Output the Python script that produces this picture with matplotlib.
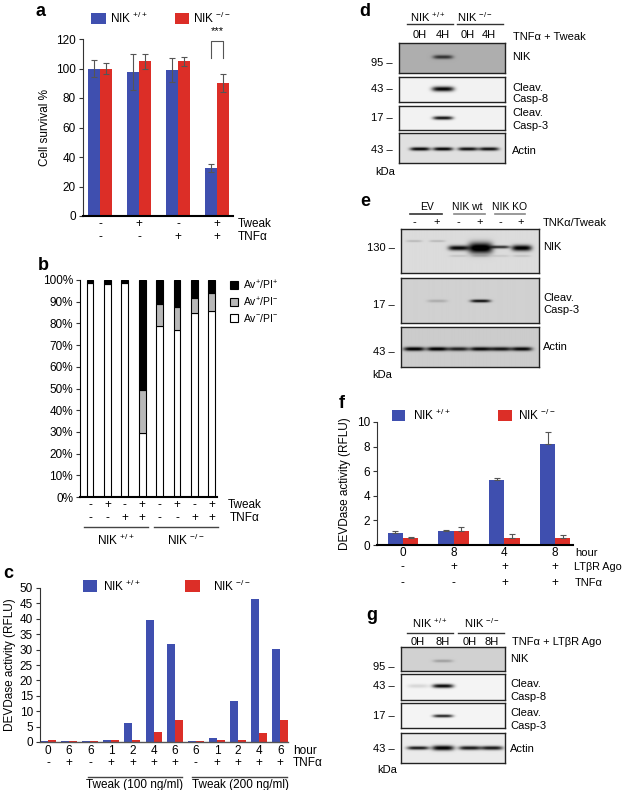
import numpy as np
import matplotlib
matplotlib.use('Agg')
import matplotlib.pyplot as plt
from matplotlib.patches import Rectangle
from matplotlib.lines import Line2D
from matplotlib import transforms

plt.rcParams['font.family'] = ['Liberation Sans', 'DejaVu Sans']
plt.rcParams['mathtext.fontset'] = 'custom'
plt.rcParams['mathtext.rm'] = 'Liberation Sans'
plt.rcParams['mathtext.it'] = 'Liberation Sans:italic'
plt.rcParams['mathtext.default'] = 'regular'

W, H = 625, 790
fig = plt.figure(figsize=(W / 100, H / 100), dpi=100)

BLUE = '#3F4FAF'
RED = '#DC2E27'
FS = 8.5

# ---------------- data ----------------
a_tweak = ['-', '+', '-', '+']
a_tnf = ['-', '-', '+', '+']
a_wt = [100, 97.5, 99, 32.5]
a_wt_err = [6, 12, 8, 3]
a_ko = [100, 105, 105, 90]
a_ko_err = [4, 5, 3, 6]

b_tweak = ['-', '+', '-', '+', '-', '+', '-', '+']
b_tnf = ['-', '-', '+', '+', '-', '-', '+', '+']
b_live = [98.5, 98, 98.5, 29.5, 79, 77, 85, 85.5]     # Av-/PI-
b_early = [0.5, 0.5, 0.5, 20, 10, 10.5, 6.5, 8.5]     # Av+/PI-
b_late = [1, 1.5, 1, 50.5, 11, 12.5, 8.5, 6]          # Av+/PI+
b_groups = ['NIK $^{+/+}$', 'NIK $^{-/-}$']

c_hours = ['0', '6', '6', '1', '2', '4', '6', '6', '1', '2', '4', '6']
c_tnf = ['-', '+', '-', '+', '+', '+', '+', '-', '+', '+', '+', '+']
c_wt = [0.3, 0.3, 0.3, 0.5, 6.3, 39.5, 31.7, 0.3, 1.2, 13.3, 46.5, 30.3]
c_ko = [0.5, 0.4, 0.4, 0.5, 0.5, 3.2, 7.3, 0.3, 0.6, 0.5, 2.9, 7.1]
c_groups = ['Tweak (100 ng/ml)', 'Tweak (200 ng/ml)']

f_hours = ['0', '8', '4', '8']
f_ltbr = ['-', '+', '+', '+']
f_tnf = ['-', '-', '+', '+']
f_wt = [0.95, 1.15, 5.25, 8.2]
f_wt_err = [0.2, 0.1, 0.2, 1.0]
f_ko = [0.55, 1.1, 0.6, 0.55]
f_ko_err = [0.1, 0.4, 0.3, 0.25]

# blot band intensities (per lane)
d_nik = [0, 0.5, 0, 0]
d_casp8 = [0, 0.95, 0, 0]
d_casp3 = [0, 0.9, 0, 0]
d_actin = [0.9, 0.9, 0.85, 0.85]

e_nik = [0.15, 0.15, 0.85, 1.0, 0.7, 0.9]
e_casp3 = [0, 0.15, 0, 0.8, 0, 0]
e_actin = [0.85, 0.85, 0.7, 0.8, 0.75, 0.8]

g_nik = [0, 0.2, 0, 0]
g_casp8 = [0.12, 0.95, 0, 0]
g_casp3 = [0, 0.85, 0, 0]
g_actin = [0.85, 0.95, 0.85, 0.85]


# ---------------- helpers ----------------
def px_axes(x0, y0, x1, y1):
    return fig.add_axes([x0 / W, 1 - y1 / H, (x1 - x0) / W, (y1 - y0) / H])


def ftext(x, y, s, **kw):
    kw.setdefault('fontsize', FS)
    kw.setdefault('va', 'center')
    fig.text(x / W, 1 - y / H, s, **kw)


def fline(x0, x1, y, lw=1.0, color='#333'):
    fig.add_artist(Line2D([x0 / W, x1 / W], [1 - y / H, 1 - y / H],
                          transform=fig.transFigure, lw=lw, color=color))


def fsquare(x0, y0, x1, y1, color, ec='none'):
    fig.add_artist(Rectangle((x0 / W, 1 - y1 / H), (x1 - x0) / W, (y1 - y0) / H,
                             transform=fig.transFigure, facecolor=color, edgecolor=ec, lw=0.8))


def row(ax, labels, ypx, **kw):
    tr = transforms.blended_transform_factory(ax.transData, fig.transFigure)
    for i, s in enumerate(labels):
        ax.text(i, 1 - ypx / H, s, transform=tr, ha='center', va='center',
                fontsize=kw.get('fontsize', FS), clip_on=False)


def dline(ax, x0, x1, ypx):
    tr = transforms.blended_transform_factory(ax.transData, fig.transFigure)
    ax.add_line(Line2D([x0, x1], [1 - ypx / H] * 2, transform=tr, color='#444', lw=1.0, clip_on=False))


def style_bar_axes(ax):
    for s in ['top', 'right']:
        ax.spines[s].set_visible(False)
    ax.spines['left'].set_color('#333')
    ax.spines['left'].set_linewidth(0.8)
    ax.spines['bottom'].set_color('black')
    ax.spines['bottom'].set_linewidth(1.5)
    ax.tick_params(axis='y', labelsize=FS, length=3, width=0.8, color='#333', pad=2)
    ax.tick_params(axis='x', length=0, labelbottom=False)


def blot(x0, y0, x1, y1, bg, bands):
    ax = px_axes(x0, y0, x1, y1)
    nx, ny = int((x1 - x0) * 3), int((y1 - y0) * 3)
    X, Y = np.meshgrid(np.linspace(x0, x1, nx), np.linspace(y0, y1, ny))
    img = np.full_like(X, bg)
    for (xc, yc, w, t, inten) in bands:
        if inten <= 0:
            continue
        fx = np.exp(-np.abs((X - xc) / (w / 2)) ** 4)
        fy = np.exp(-((Y - yc) / (t / 2)) ** 2)
        img -= inten * fx * fy
    img = np.clip(img, 0, 1)
    ax.imshow(img, cmap='gray', vmin=0, vmax=1, extent=(x0, x1, y1, y0),
              aspect='auto', interpolation='bilinear')
    ax.set_xlim(x0, x1)
    ax.set_ylim(y1, y0)
    ax.set_xticks([])
    ax.set_yticks([])
    for s in ax.spines.values():
        s.set_linewidth(1.0)
        s.set_color('#222')
    return ax


def mw(x, y, s):
    ftext(x, y, s + ' \u2013', ha='right', fontsize=8)


def panel(x, y, s):
    ftext(x, y, s, ha='center', fontsize=13, fontweight='bold')


# ---------------- panel a ----------------
ax = px_axes(83, 39, 233, 216)
xa = np.arange(4)
bw = 0.3
ax.bar(xa - bw / 2, a_wt, bw, color=BLUE, yerr=a_wt_err, capsize=2,
       error_kw=dict(ecolor='#555', elinewidth=0.8, capthick=0.8))
ax.bar(xa + bw / 2, a_ko, bw, color=RED, yerr=a_ko_err, capsize=2,
       error_kw=dict(ecolor='#555', elinewidth=0.8, capthick=0.8))
ax.set_xlim(-0.436, 3.41)
ax.set_ylim(0, 120)
ax.set_yticks(range(0, 121, 20))
style_bar_axes(ax)
ax.set_ylabel('Cell survival %', fontsize=FS, labelpad=4)
ax.plot([3 - bw / 2, 3 - bw / 2, 3 + bw / 2, 3 + bw / 2], [107, 118.5, 118.5, 107],
        color='#555', lw=0.8, clip_on=False)
ax.text(3, 122, '***', ha='center', va='bottom', fontsize=8, clip_on=False)
row(ax, a_tweak, 224)
row(ax, a_tnf, 237)
ftext(238, 224, 'Tweak', ha='left')
ftext(238, 237, 'TNF\u03b1', ha='left')
fsquare(91, 13, 106, 24, BLUE)
ftext(110, 18, 'NIK $^{+/+}$', ha='left')
fsquare(175, 13, 189, 24, RED)
ftext(193, 18, 'NIK $^{-/-}$', ha='left')
panel(40, 12, 'a')

# ---------------- panel b ----------------
ax = px_axes(80, 280, 217, 497)
xb = np.arange(8)
wb = 0.4
ax.bar(xb, b_live, wb, color='white', edgecolor='black', lw=0.8)
ax.bar(xb, b_early, wb, bottom=b_live, color='#B8B8B8', edgecolor='black', lw=0.8)
ax.bar(xb, b_late, wb, bottom=np.add(b_live, b_early), color='black', edgecolor='black', lw=0.8)
ax.set_xlim(-0.575, 7.3)
ax.set_ylim(0, 100)
ax.set_yticks(range(0, 101, 10))
ax.set_yticklabels([f'{v}%' for v in range(0, 101, 10)])
style_bar_axes(ax)
ax.spines['left'].set_color('black')
row(ax, b_tweak, 505)
row(ax, b_tnf, 518)
ftext(228, 505, 'Tweak', ha='left')
ftext(230, 518, 'TNF\u03b1', ha='left')
dline(ax, -0.35, 3.35, 527)
dline(ax, 3.65, 7.35, 527)
tr = transforms.blended_transform_factory(ax.transData, fig.transFigure)
ax.text(1.5, 1 - 540 / H, b_groups[0], transform=tr, ha='center', va='center', fontsize=FS, clip_on=False)
ax.text(5.5, 1 - 540 / H, b_groups[1], transform=tr, ha='center', va='center', fontsize=FS, clip_on=False)
for yy, col, lab in [(285, 'black', 'Av$^{+}$/PI$^{+}$'), (302, '#B8B8B8', 'Av$^{+}$/PI$^{-}$'),
                     (318, 'white', 'Av$^{-}$/PI$^{-}$')]:
    fsquare(230, yy - 4, 238, yy + 4, col, ec='black')
    ftext(243, yy, lab, ha='left', fontsize=7.5)
panel(43, 265, 'b')

# ---------------- panel c ----------------
ax = px_axes(40, 588, 288, 742)
xc = np.arange(12)
wc = 0.38
ax.bar(xc - wc / 2, c_wt, wc, color=BLUE)
ax.bar(xc + wc / 2, c_ko, wc, color=RED)
ax.set_xlim(-0.38, 11.37)
ax.set_ylim(0, 50)
ax.set_yticks(range(0, 51, 5))
style_bar_axes(ax)
ax.spines['bottom'].set_linewidth(1.0)
ax.spines['bottom'].set_color('#555')
ax.set_ylabel('DEVDase activity (RFLU)', fontsize=FS, labelpad=3)
row(ax, c_hours, 751)
row(ax, c_tnf, 763)
ftext(293, 751, 'hour', ha='left')
ftext(293, 763, 'TNF\u03b1', ha='left')
dline(ax, 1.9, 6.35, 777)
dline(ax, 6.82, 11.33, 777)
tr = transforms.blended_transform_factory(ax.transData, fig.transFigure)
ax.text(4.1, 1 - 785 / H, c_groups[0], transform=tr, ha='center', va='center', fontsize=FS, clip_on=False)
ax.text(9.1, 1 - 785 / H, c_groups[1], transform=tr, ha='center', va='center', fontsize=FS, clip_on=False)
fsquare(83, 580, 97, 592, BLUE)
ftext(103, 586, 'NIK $^{+/+}$', ha='left')
fsquare(185, 580, 200, 592, RED)
ftext(213, 586, 'NIK $^{-/-}$', ha='left')
panel(8, 573, 'c')

# ---------------- panel d ----------------
panel(365, 12, 'd')
d_x = [420, 443, 468, 489]
ftext(428, 17, 'NIK $^{+/+}$', ha='center', fontsize=8)
ftext(475, 17, 'NIK $^{-/-}$', ha='center', fontsize=8)
fline(407, 453, 24)
fline(457, 503, 24)
for x, s in zip(d_x, ['0H', '4H', '0H', '4H']):
    ftext(x, 35, s, ha='center', fontsize=8)
ftext(513, 37, 'TNF\u03b1 + Tweak', ha='left', fontsize=8)
blot(399, 43, 505, 73, 0.68, [(x, 57, 20, 4, v) for x, v in zip(d_x, d_nik)])
blot(399, 77, 505, 102, 0.95, [(x, 89, 22, 5, v) for x, v in zip(d_x, d_casp8)])
blot(399, 106, 505, 130, 0.95, [(x, 118, 20, 3.5, v) for x, v in zip(d_x, d_casp3)])
blot(399, 133, 505, 163, 0.88, [(x, 149, 20, 3.5, v) for x, v in zip(d_x, d_actin)])
mw(393, 63, '95')
mw(393, 89, '43')
mw(393, 118, '17')
mw(393, 150, '43')
ftext(375, 172, 'kDa', ha='left', fontsize=8)
ftext(512, 57, 'NIK', ha='left', fontsize=8)
ftext(512, 88, 'Cleav.', ha='left', fontsize=8)
ftext(512, 99, 'Casp-8', ha='left', fontsize=8)
ftext(512, 113, 'Cleav.', ha='left', fontsize=8)
ftext(512, 126, 'Casp-3', ha='left', fontsize=8)
ftext(512, 151, 'Actin', ha='left', fontsize=8)

# ---------------- panel e ----------------
panel(365, 202, 'e')
e_x = [414, 437, 458, 480, 500, 521]
ftext(427, 207, 'EV', ha='center', fontsize=7.5)
ftext(467, 207, 'NIK wt', ha='center', fontsize=7.5)
ftext(510, 207, 'NIK KO', ha='center', fontsize=7.5)
fline(410, 442, 214, lw=1.2)
fline(454, 485, 214, lw=1.2, color='#888')
fline(495, 525, 214, lw=1.2, color='#888')
for x, s in zip(e_x, ['-', '+', '-', '+', '-', '+']):
    ftext(x, 222, s, ha='center', fontsize=8)
ftext(543, 223, 'TNK\u03b1/Tweak', ha='left', fontsize=8)
nik_t = [2, 2, 5, 11, 3, 6]
nik_w = [16, 16, 20, 24, 18, 20]
nik_y = [241, 241, 248, 248, 247, 248]
bands = [(x, y, w, t, v) for x, y, w, t, v in zip(e_x, nik_y, nik_w, nik_t, e_nik)]
bands += [(x, 256, 18, 2, 0.12 * v) for x, v in zip(e_x[2:], e_nik[2:])]
blot(401, 229, 539, 273, 0.86, bands)
blot(401, 278, 539, 323, 0.82, [(x, 301, 20, 3, v) for x, v in zip(e_x, e_casp3)])
blot(401, 327, 539, 367, 0.8, [(x, 349, 21, 4, v) for x, v in zip(e_x, e_actin)])
mw(395, 248, '130')
mw(395, 305, '17')
mw(395, 352, '43')
ftext(372, 375, 'kDa', ha='left', fontsize=8)
ftext(543, 247, 'NIK', ha='left', fontsize=8)
ftext(543, 298, 'Cleav.', ha='left', fontsize=8)
ftext(543, 310, 'Casp-3', ha='left', fontsize=8)
ftext(543, 347, 'Actin', ha='left', fontsize=8)

# ---------------- panel f ----------------
ax = px_axes(377, 422, 573, 545)
xf = np.arange(4)
wf = 0.3
ax.bar(xf - wf / 2, f_wt, wf, color=BLUE, yerr=[[0] * 4, f_wt_err], capsize=2,
       error_kw=dict(ecolor='#555', elinewidth=0.8, capthick=0.8))
ax.bar(xf + wf / 2, f_ko, wf, color=RED, yerr=[[0] * 4, f_ko_err], capsize=2,
       error_kw=dict(ecolor='#555', elinewidth=0.8, capthick=0.8))
ax.set_xlim(-0.51, 3.35)
ax.set_ylim(0, 10)
ax.set_yticks(range(0, 11, 2))
style_bar_axes(ax)
ax.set_ylabel('DEVDase activity (RFLU)', fontsize=FS, labelpad=4)
row(ax, f_hours, 553)
row(ax, f_ltbr, 567)
row(ax, f_tnf, 583)
ftext(575, 553, 'hour', ha='left', fontsize=8)
ftext(574, 567, 'LT\u03b2R Ago', ha='left', fontsize=7.8)
ftext(575, 583, 'TNF\u03b1', ha='left', fontsize=8)
fsquare(392, 410, 405, 421, BLUE)
ftext(413, 415, 'NIK $^{+/+}$', ha='left')
fsquare(498, 410, 512, 421, RED)
ftext(518, 415, 'NIK $^{-/-}$', ha='left')
panel(342, 403, 'f')

# ---------------- panel g ----------------
panel(372, 615, 'g')
g_x = [418, 443, 470, 492]
ftext(430, 623, 'NIK $^{+/+}$', ha='center', fontsize=8)
ftext(482, 623, 'NIK $^{-/-}$', ha='center', fontsize=8)
fline(407, 453, 633)
fline(458, 504, 633)
for x, s in zip(g_x, ['0H', '8H', '0H', '8H']):
    ftext(x, 642, s, ha='center', fontsize=8)
ftext(512, 642, 'TNF\u03b1 + LT\u03b2R Ago', ha='left', fontsize=8)
blot(401, 647, 505, 671, 0.82, [(x, 661, 20, 3, v) for x, v in zip(g_x, g_nik)])
blot(401, 674, 505, 700, 0.96, [(x, 686, 21, 4, v) for x, v in zip(g_x, g_casp8)])
blot(401, 703, 505, 728, 0.96, [(x, 716, 20, 3, v) for x, v in zip(g_x, g_casp3)])
blot(401, 733, 505, 763, 0.92, [(x, 748, 22, t, v) for x, t, v in zip(g_x, [3.5, 5, 4, 4], g_actin)])
mw(395, 667, '95')
mw(395, 686, '43')
mw(395, 716, '17')
mw(395, 749, '43')
ftext(377, 770, 'kDa', ha='left', fontsize=8)
ftext(510, 659, 'NIK', ha='left', fontsize=8)
ftext(510, 684, 'Cleav.', ha='left', fontsize=8)
ftext(510, 697, 'Casp-8', ha='left', fontsize=8)
ftext(510, 713, 'Cleav.', ha='left', fontsize=8)
ftext(510, 726, 'Casp-3', ha='left', fontsize=8)
ftext(510, 749, 'Actin', ha='left', fontsize=8)

fig.savefig('out.png', dpi=100)
